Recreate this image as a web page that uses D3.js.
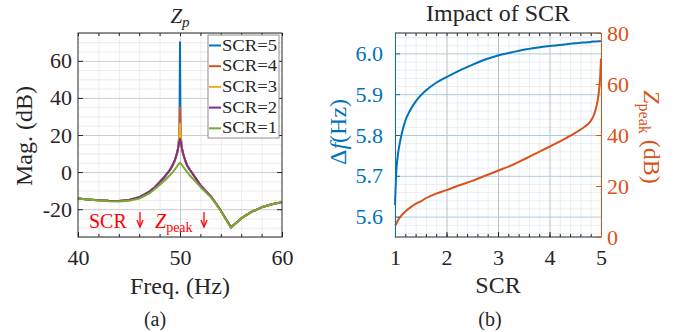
<!DOCTYPE html>
<html>
<head>
<meta charset="utf-8">
<script src="https://cdn.jsdelivr.net/npm/d3@7"></script>
<style>
  body { margin: 0; background: #fff; }
  svg { display: block; }
</style>
</head>
<body>
<svg id="chart"></svg>
<script>
// ---- data ----
const freq = [40,41,42,43,44,45,46,47,47.5,48,48.5,49,49.3,49.5,49.7,49.8,49.9,49.95,50,50.05,50.1,50.2,50.3,50.5,50.7,51,51.5,52,52.5,53,53.5,54,54.5,55,55.5,56,57,58,59,60]
const magSCR1 = [-14.3,-14.8,-15.3,-15.7,-15.9,-15.5,-14.3,-11.5,-9.3,-7,-4.5,-1.7,0,1.5,3,3.8,4.5,4.8,5,4.8,4.5,3.8,3,1.5,0,-2,-5,-8,-10.8,-13.5,-17,-21,-25.5,-30,-27.5,-25,-21.5,-19,-17.3,-16.2]
const magSCR2 = [-14.3,-14.8,-15.2,-15.5,-15.6,-15,-13.6,-10.5,-8.3,-5.5,-2.5,1,4,6.5,10,12.5,15.5,17,18,17,15.5,12.5,10,6.5,3.5,1,-3,-7,-10,-13,-16.7,-20.8,-25.3,-29.8,-27.5,-25,-21.5,-19,-17.3,-16.2]
const magSCR3 = [-14.3,-14.8,-15.2,-15.5,-15.6,-15,-13.6,-10.5,-8.3,-5.5,-2.5,1,4,6.5,10,12.5,17,21,26,21,17,12.5,10,6.5,3.5,1,-3,-7,-10,-13,-16.7,-20.8,-25.3,-29.8,-27.5,-25,-21.5,-19,-17.3,-16.2]
const magSCR4 = [-14.3,-14.8,-15.2,-15.5,-15.6,-15,-13.6,-10.5,-8.3,-5.5,-2.5,1,4,6.5,10,12.5,17.5,23,35,23,17.5,12.5,10,6.5,3.5,1,-3,-7,-10,-13,-16.7,-20.8,-25.3,-29.8,-27.5,-25,-21.5,-19,-17.3,-16.2]
const magSCR5 = [-14.3,-14.8,-15.2,-15.5,-15.6,-15,-13.6,-10.5,-8.3,-5.5,-2.5,1,4,6.5,10,12.5,18,25,70,25,18,12.5,10,6.5,3.5,1,-3,-7,-10,-13,-16.7,-20.8,-25.3,-29.8,-27.5,-25,-21.5,-19,-17.3,-16.2]
const seriesNames = ['SCR=5','SCR=4','SCR=3','SCR=2','SCR=1']

const scr = [1,1.02,1.05,1.1,1.15,1.2,1.3,1.4,1.5,1.6,1.8,2,2.25,2.5,2.75,3,3.25,3.5,3.75,4,4.25,4.5,4.6,4.7,4.8,4.85,4.9,4.95,4.98,5]
const deltaF = [5.628,5.70,5.745,5.785,5.813,5.835,5.862,5.882,5.897,5.909,5.928,5.942,5.958,5.972,5.985,5.995,6.002,6.009,6.014,6.018,6.021,6.025,6.026,6.027,6.028,6.029,6.029,6.030,6.030,6.031]
const zPeak = [4.5,5,6.3,7.8,9,10,11.6,13,14,15.2,17,18.4,20.3,22,24,26,28,30.4,32.9,35.4,38,40.8,42.1,43.5,45.5,47.3,50.2,55.5,61.5,70]

const magTicksX = [40,50,60]
const magTicksY = [-20,0,20,40,60]
const scrTicks = [1,2,3,4,5]
const dfTicks = [5.6,5.7,5.8,5.9,6.0]
const zTicks = [0,20,40,60,80]

// ---- layout ----
const W = 683, H = 332
const colors = ['#0072BD','#D95319','#EDB120','#7E2F8E','#77AC30']
const dark = '#262626'
const serif = '"Liberation Serif", "Times New Roman", Times, serif'
const plain = d => String(d)

const svg = d3.select('#chart').attr('width', W).attr('height', H)

const yTop = 33, yBot = 237

// ===== left panel =====
const xL = d3.scaleLinear().domain([40,60]).range([78,282])
const yL = d3.scaleLinear().domain([-35,75]).range([yBot,yTop])

const gL = svg.append('g')

// minor grid
gL.append('g').attr('transform','translate(0,'+yBot+')')
  .call(d3.axisBottom(xL).tickValues(d3.range(42,60,2).filter(v => v !== 50)).tickSize(-(yBot-yTop)).tickFormat(''))
  .call(g => g.select('.domain').remove())
  .selectAll('line').attr('stroke','#e6e6e6').attr('stroke-width',0.8)
gL.append('g').attr('transform','translate(78,0)')
  .call(d3.axisLeft(yL).tickValues(d3.range(-35,76,5).filter(v => v % 20 !== 0)).tickSize(-(282-78)).tickFormat(''))
  .call(g => g.select('.domain').remove())
  .selectAll('line').attr('stroke','#e6e6e6').attr('stroke-width',0.8)
// major grid
gL.append('g').attr('transform','translate(0,'+yBot+')')
  .call(d3.axisBottom(xL).tickValues([50]).tickSize(-(yBot-yTop)).tickFormat(''))
  .call(g => g.select('.domain').remove())
  .selectAll('line').attr('stroke','#cccccc')
gL.append('g').attr('transform','translate(78,0)')
  .call(d3.axisLeft(yL).tickValues(magTicksY).tickSize(-(282-78)).tickFormat(''))
  .call(g => g.select('.domain').remove())
  .selectAll('line').attr('stroke','#cccccc')

// curves
const magSeries = [magSCR5, magSCR4, magSCR3, magSCR2, magSCR1]
const lineL = d3.line().x((d,i) => xL(freq[i])).y(d => yL(d))
magSeries.forEach((s,k) => {
  gL.append('path').datum(s)
    .attr('d', lineL)
    .attr('fill','none')
    .attr('stroke', colors[k])
    .attr('stroke-width', 2)
    .attr('stroke-linejoin','round')
})

// axes (inward ticks)
gL.append('g').attr('transform','translate(0,'+yBot+')')
  .call(d3.axisBottom(xL).tickValues(magTicksX).tickFormat(plain).tickSizeInner(-5).tickSizeOuter(0).tickPadding(12))
  .call(g => g.select('.domain').remove())
  .call(g => g.selectAll('text').attr('font-size',22).attr('fill',dark))
  .selectAll('line').attr('stroke',dark)
gL.append('g').attr('transform','translate(0,'+yBot+')')
  .call(d3.axisBottom(xL).tickValues(d3.range(42,60,2)).tickSize(-3).tickFormat(''))
  .call(g => g.select('.domain').remove())
  .selectAll('line').attr('stroke',dark)
gL.append('g').attr('transform','translate(0,'+yTop+')')
  .call(d3.axisTop(xL).tickValues(d3.range(40,61,2)).tickSize(-3).tickFormat(''))
  .call(g => g.select('.domain').remove())
  .selectAll('line').attr('stroke',dark)
gL.append('g').attr('transform','translate(78,0)')
  .call(d3.axisLeft(yL).tickValues(magTicksY).tickFormat(plain).tickSizeInner(-5).tickSizeOuter(0).tickPadding(6))
  .call(g => g.select('.domain').remove())
  .call(g => g.selectAll('text').attr('font-size',22).attr('fill',dark))
  .selectAll('line').attr('stroke',dark)
gL.append('g').attr('transform','translate(282,0)')
  .call(d3.axisRight(yL).tickValues(magTicksY).tickSize(-5).tickFormat(''))
  .call(g => g.select('.domain').remove())
  .selectAll('line').attr('stroke',dark)
gL.append('rect').attr('x',78).attr('y',yTop).attr('width',282-78).attr('height',yBot-yTop)
  .attr('fill','none').attr('stroke',dark).attr('stroke-width',1)

// legend
const leg = gL.append('g')
leg.append('rect').attr('x',208).attr('y',35).attr('width',71).attr('height',103)
  .attr('fill','#fff').attr('stroke','#8c8c8c').attr('stroke-width',1)
seriesNames.forEach((n,k) => {
  const y = 45.5 + k*20.7
  leg.append('line').attr('x1',209).attr('x2',221).attr('y1',y).attr('y2',y)
    .attr('stroke',colors[k]).attr('stroke-width',2)
  leg.append('text').attr('x',222).attr('y',y+5).attr('font-size',16)
    .attr('textLength',55).attr('lengthAdjust','spacingAndGlyphs')
    .attr('fill',dark).text(n)
})

// annotations
const red = '#ff0000'
gL.append('text').attr('x',89).attr('y',228).attr('font-size',20).attr('fill',red).text('SCR')
const zt = gL.append('text').attr('x',155).attr('y',228).attr('font-size',20).attr('fill',red)
zt.append('tspan').attr('font-style','italic').text('Z')
zt.append('tspan').attr('font-size',14).attr('dy',4).text('peak')
const arrow = (x) => {
  gL.append('line').attr('x1',x).attr('x2',x).attr('y1',212).attr('y2',226).attr('stroke',red).attr('stroke-width',1.3)
  gL.append('path').attr('d','M'+(x-3)+',220 L'+x+',227 L'+(x+3)+',220').attr('fill','none').attr('stroke',red).attr('stroke-width',1.3)
}
arrow(140); arrow(204)

// labels
const tL = gL.append('text').attr('x',180).attr('y',23).attr('text-anchor','middle').attr('font-size',21).attr('fill',dark)
tL.append('tspan').attr('font-style','italic').text('Z')
tL.append('tspan').attr('font-style','italic').attr('font-size',15).attr('dy',4).text('p')
gL.append('text').attr('x',180).attr('y',294).attr('text-anchor','middle').attr('font-size',24).attr('fill',dark).text('Freq. (Hz)')
gL.append('text').attr('transform','translate(32,136) rotate(-90)').attr('text-anchor','middle').attr('font-size',24).attr('fill',dark).text('Mag. (dB)')
gL.append('text').attr('x',155).attr('y',326).attr('text-anchor','middle').attr('font-size',20).attr('fill',dark).text('(a)')

// ===== right panel =====
const x0 = 395, x1 = 601
const xR = d3.scaleLinear().domain([1,5]).range([x0,x1])
const yDf = d3.scaleLinear().domain([5.55,6.05]).range([yBot,yTop])
const yZ = d3.scaleLinear().domain([0,80]).range([yBot,yTop])
const blue = colors[0], orange = colors[1]

const gR = svg.append('g')
// minor grid
gR.append('g').attr('transform','translate(0,'+yBot+')')
  .call(d3.axisBottom(xR).tickValues(d3.range(1.2,5,0.2).filter(v => Math.abs(v - Math.round(v)) > 0.01)).tickSize(-(yBot-yTop)).tickFormat(''))
  .call(g => g.select('.domain').remove())
  .selectAll('line').attr('stroke','#e3eaf2').attr('stroke-width',0.8)
gR.append('g').attr('transform','translate('+x0+',0)')
  .call(d3.axisLeft(yDf).tickValues(d3.range(5.56,6.05,0.02).filter(v => Math.abs(v*10 - Math.round(v*10)) > 0.01)).tickSize(-(x1-x0)).tickFormat(''))
  .call(g => g.select('.domain').remove())
  .selectAll('line').attr('stroke','#e0ebf5').attr('stroke-width',0.8)
// major grid
gR.append('g').attr('transform','translate(0,'+yBot+')')
  .call(d3.axisBottom(xR).tickValues([2,3,4]).tickSize(-(yBot-yTop)).tickFormat(''))
  .call(g => g.select('.domain').remove())
  .selectAll('line').attr('stroke','#bdbdbd')
gR.append('g').attr('transform','translate('+x0+',0)')
  .call(d3.axisLeft(yDf).tickValues(dfTicks).tickSize(-(x1-x0)).tickFormat(''))
  .call(g => g.select('.domain').remove())
  .selectAll('line').attr('stroke','#a9cbe6')

// curves
gR.append('path').datum(deltaF)
  .attr('d', d3.line().x((d,i) => xR(scr[i])).y(d => yDf(d)).curve(d3.curveMonotoneX))
  .attr('fill','none').attr('stroke',blue).attr('stroke-width',2)
gR.append('path').datum(zPeak)
  .attr('d', d3.line().x((d,i) => xR(scr[i])).y(d => yZ(d)).curve(d3.curveMonotoneX))
  .attr('fill','none').attr('stroke',orange).attr('stroke-width',2)

// axes
gR.append('g').attr('transform','translate(0,'+yBot+')')
  .call(d3.axisBottom(xR).tickValues(scrTicks).tickFormat(plain).tickSizeInner(-5).tickSizeOuter(0).tickPadding(12))
  .call(g => g.select('.domain').remove())
  .call(g => g.selectAll('text').attr('font-size',22).attr('fill',dark))
  .selectAll('line').attr('stroke',dark)
gR.append('g').attr('transform','translate(0,'+yBot+')')
  .call(d3.axisBottom(xR).tickValues(d3.range(1,5.01,0.2)).tickSize(-3).tickFormat(''))
  .call(g => g.select('.domain').remove())
  .selectAll('line').attr('stroke',dark)
gR.append('g').attr('transform','translate(0,'+yTop+')')
  .call(d3.axisTop(xR).tickValues(d3.range(1,5.01,0.2)).tickSize(-3).tickFormat(''))
  .call(g => g.select('.domain').remove())
  .selectAll('line').attr('stroke',dark)
gR.append('line').attr('x1',x0).attr('x2',x1).attr('y1',yTop).attr('y2',yTop).attr('stroke',dark)
gR.append('line').attr('x1',x0).attr('x2',x1).attr('y1',yBot).attr('y2',yBot).attr('stroke',dark)

gR.append('g').attr('transform','translate('+x0+',0)')
  .call(d3.axisLeft(yDf).tickValues(dfTicks).tickSizeInner(-5).tickSizeOuter(0).tickPadding(12).tickFormat(d3.format('.1f')))
  .call(g => g.select('.domain').attr('stroke',blue))
  .call(g => g.selectAll('text').attr('font-size',22).attr('fill',blue))
  .selectAll('line').attr('stroke',blue)
gR.append('g').attr('transform','translate('+x1+',0)')
  .call(d3.axisRight(yZ).tickValues(zTicks).tickFormat(plain).tickSizeInner(-5).tickSizeOuter(0).tickPadding(6))
  .call(g => g.select('.domain').attr('stroke',orange))
  .call(g => g.selectAll('text').attr('font-size',22).attr('fill',orange))
  .selectAll('line').attr('stroke',orange)

// labels
gR.append('text').attr('x',498).attr('y',21).attr('text-anchor','middle').attr('font-size',24).attr('fill',dark).text('Impact of SCR')
gR.append('text').attr('x',498).attr('y',293).attr('text-anchor','middle').attr('font-size',24).attr('fill',dark).text('SCR')
gR.append('text').attr('x',490).attr('y',326).attr('text-anchor','middle').attr('font-size',20).attr('fill',dark).text('(b)')
const ldf = gR.append('text').attr('transform','translate(346,132) rotate(-90)').attr('text-anchor','middle').attr('font-size',24).attr('fill',blue)
ldf.append('tspan').text('\u0394')
ldf.append('tspan').attr('font-style','italic').text('f')
ldf.append('tspan').text('(Hz)')
const lz = gR.append('text').attr('transform','translate(644,137) rotate(90)').attr('text-anchor','middle').attr('font-size',24).attr('fill',orange)
lz.append('tspan').attr('font-style','italic').text('Z')
lz.append('tspan').attr('font-size',16).attr('dy',5).text('peak')
lz.append('tspan').attr('dy',-5).text(' (dB)')

// serif everywhere (d3 axes default to sans-serif)
svg.selectAll('g').attr('font-family', serif)
svg.selectAll('text').attr('font-family', serif)
</script>
</body>
</html>
